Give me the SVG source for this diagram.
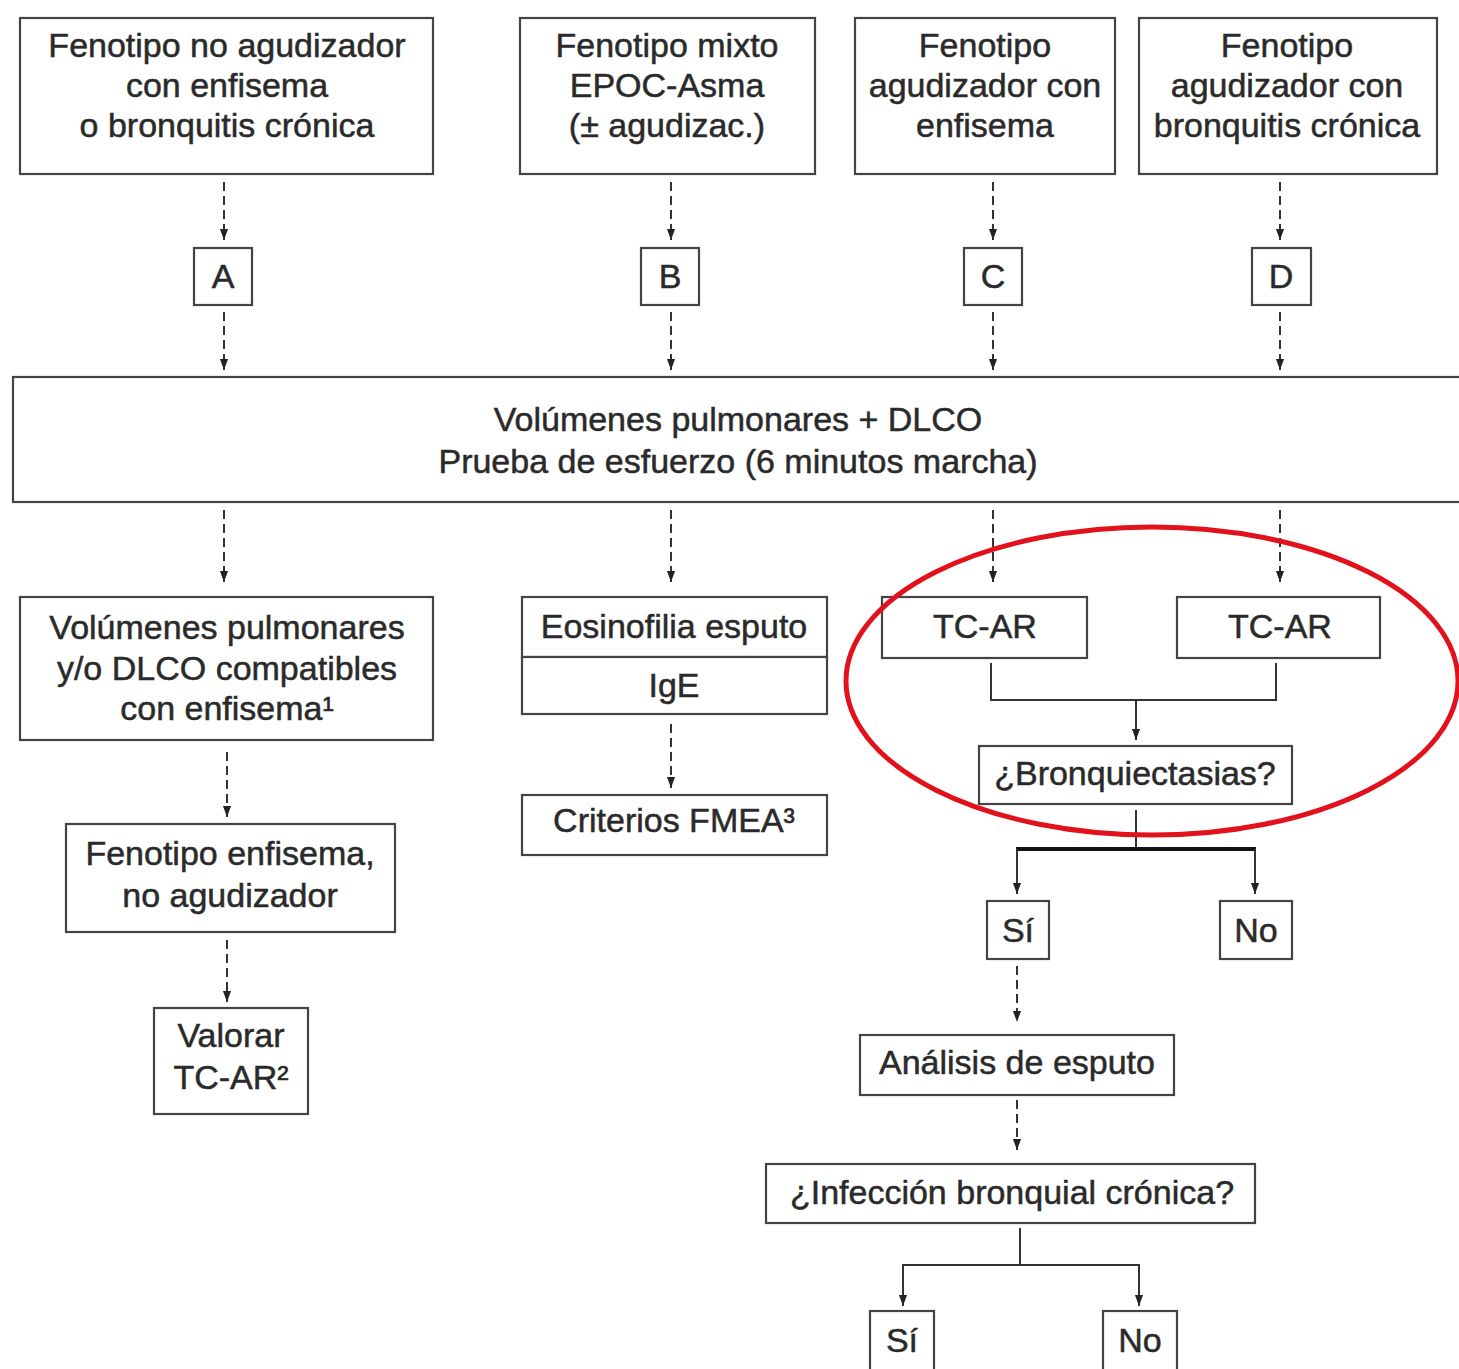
<svg xmlns="http://www.w3.org/2000/svg" width="1459" height="1369" viewBox="0 0 1459 1369">
<defs>
<marker id="ad" markerUnits="userSpaceOnUse" markerWidth="11" markerHeight="15" viewBox="0 0 15 11" refX="15" refY="5.5" orient="auto">
<path d="M0,0 L15,5.5 L0,11 Z" fill="#222"/>
</marker>
</defs>
<style>
.box{fill:#fff;stroke:#444;stroke-width:2.2}
.t{font-family:"Liberation Sans",Arial,sans-serif;font-size:34px;fill:#2a2a2a;stroke:#2a2a2a;stroke-width:0.5;text-anchor:middle}
.dash{fill:none;stroke:#333;stroke-width:2;stroke-dasharray:9 5}
.solid{fill:none;stroke:#333;stroke-width:2}
.thick{fill:none;stroke:#111;stroke-width:4}
</style>
<rect width="1459" height="1369" fill="#fff"/>

<g id="connectors">
<line class="dash" x1="224" y1="182" x2="224" y2="240" marker-end="url(#ad)"/>
<line class="dash" x1="671" y1="182" x2="671" y2="240" marker-end="url(#ad)"/>
<line class="dash" x1="993" y1="182" x2="993" y2="240" marker-end="url(#ad)"/>
<line class="dash" x1="1280" y1="182" x2="1280" y2="240" marker-end="url(#ad)"/>
<line class="dash" x1="224" y1="312" x2="224" y2="370" marker-end="url(#ad)"/>
<line class="dash" x1="671" y1="312" x2="671" y2="370" marker-end="url(#ad)"/>
<line class="dash" x1="993" y1="312" x2="993" y2="370" marker-end="url(#ad)"/>
<line class="dash" x1="1280" y1="312" x2="1280" y2="370" marker-end="url(#ad)"/>
<line class="dash" x1="224" y1="510" x2="224" y2="582" marker-end="url(#ad)"/>
<line class="dash" x1="671" y1="510" x2="671" y2="582" marker-end="url(#ad)"/>
<line class="dash" x1="993" y1="510" x2="993" y2="582" marker-end="url(#ad)"/>
<line class="dash" x1="1280" y1="510" x2="1280" y2="582" marker-end="url(#ad)"/>
<line class="dash" x1="227" y1="752" x2="227" y2="817" marker-end="url(#ad)"/>
<line class="dash" x1="227" y1="940" x2="227" y2="1002" marker-end="url(#ad)"/>
<line class="dash" x1="671" y1="724" x2="671" y2="788" marker-end="url(#ad)"/>
<polyline class="solid" points="991,663 991,700 1276,700 1276,663"/>
<line class="solid" x1="1136" y1="700" x2="1136" y2="740" marker-end="url(#ad)"/>
<line class="solid" x1="1136" y1="810" x2="1136" y2="849"/>
<line class="thick" x1="1016" y1="849" x2="1256" y2="849"/>
<line class="solid" x1="1017" y1="849" x2="1017" y2="894" marker-end="url(#ad)"/>
<line class="solid" x1="1255" y1="849" x2="1255" y2="894" marker-end="url(#ad)"/>
<line class="dash" x1="1017" y1="966" x2="1017" y2="1022" marker-end="url(#ad)"/>
<line class="dash" x1="1017" y1="1100" x2="1017" y2="1150" marker-end="url(#ad)"/>
<polyline class="solid" points="903,1290 903,1265 1139,1265 1139,1290"/>
<line class="solid" x1="1020" y1="1228" x2="1020" y2="1265"/>
<line class="solid" x1="903" y1="1280" x2="903" y2="1306" marker-end="url(#ad)"/>
<line class="solid" x1="1139" y1="1280" x2="1139" y2="1306" marker-end="url(#ad)"/>
</g>

<g id="n1"><rect class="box" x="20" y="18" width="413" height="156"/>
<text class="t" x="227" y="57">Fenotipo no agudizador</text><text class="t" x="227" y="97">con enfisema</text><text class="t" x="227" y="137">o bronquitis crónica</text></g>
<g id="n2"><rect class="box" x="520" y="18" width="295" height="156"/>
<text class="t" x="667" y="57">Fenotipo mixto</text><text class="t" x="667" y="97">EPOC-Asma</text><text class="t" x="667" y="137">(± agudizac.)</text></g>
<g id="n3"><rect class="box" x="855" y="18" width="260" height="156"/>
<text class="t" x="985" y="57">Fenotipo</text><text class="t" x="985" y="97">agudizador con</text><text class="t" x="985" y="137">enfisema</text></g>
<g id="n4"><rect class="box" x="1139" y="18" width="298" height="156"/>
<text class="t" x="1287" y="57">Fenotipo</text><text class="t" x="1287" y="97">agudizador con</text><text class="t" x="1287" y="137">bronquitis crónica</text></g>

<g id="nA"><rect class="box" x="194" y="248" width="58" height="57"/><text class="t" x="223" y="288">A</text></g>
<g id="nB"><rect class="box" x="641" y="248" width="58" height="57"/><text class="t" x="670" y="288">B</text></g>
<g id="nC"><rect class="box" x="964" y="248" width="58" height="57"/><text class="t" x="993" y="288">C</text></g>
<g id="nD"><rect class="box" x="1252" y="248" width="59" height="57"/><text class="t" x="1281" y="288">D</text></g>

<g id="nBig"><rect class="box" x="13" y="377" width="1455" height="125"/>
<text class="t" x="738" y="431">Volúmenes pulmonares + DLCO</text><text class="t" x="738" y="473">Prueba de esfuerzo (6 minutos marcha)</text></g>

<g id="nVol"><rect class="box" x="20" y="597" width="413" height="143"/>
<text class="t" x="227" y="639">Volúmenes pulmonares</text><text class="t" x="227" y="680">y/o DLCO compatibles</text><text class="t" x="227" y="720">con enfisema¹</text></g>
<g id="nFen"><rect class="box" x="66" y="824" width="329" height="108"/>
<text class="t" x="230" y="865">Fenotipo enfisema,</text><text class="t" x="230" y="907">no agudizador</text></g>
<g id="nVal"><rect class="box" x="154" y="1008" width="154" height="106"/>
<text class="t" x="231" y="1047">Valorar</text><text class="t" x="231" y="1089">TC-AR²</text></g>

<g id="nEos"><rect class="box" x="522" y="597" width="305" height="60"/><text class="t" x="674" y="638">Eosinofilia esputo</text></g>
<g id="nIgE"><rect class="box" x="522" y="657" width="305" height="57"/><text class="t" x="674" y="697">IgE</text></g>
<g id="nCri"><rect class="box" x="522" y="795" width="305" height="60"/><text class="t" x="674" y="832">Criterios FMEA³</text></g>

<g id="nTC1"><rect class="box" x="882" y="597" width="205" height="61"/><text class="t" x="985" y="638">TC-AR</text></g>
<g id="nTC2"><rect class="box" x="1177" y="597" width="203" height="61"/><text class="t" x="1280" y="638">TC-AR</text></g>
<g id="nBro"><rect class="box" x="979" y="746" width="313" height="58"/><text class="t" x="1135" y="785">¿Bronquiectasias?</text></g>
<g id="nSi1"><rect class="box" x="987" y="901" width="62" height="58"/><text class="t" x="1018" y="942">Sí</text></g>
<g id="nNo1"><rect class="box" x="1220" y="901" width="72" height="58"/><text class="t" x="1256" y="942">No</text></g>
<g id="nAna"><rect class="box" x="860" y="1035" width="314" height="60"/><text class="t" x="1017" y="1074">Análisis de esputo</text></g>
<g id="nInf"><rect class="box" x="766" y="1164" width="489" height="59"/><text class="t" x="1012" y="1204">¿Infección bronquial crónica?</text></g>
<g id="nSi2"><rect class="box" x="870" y="1311" width="64" height="70"/><text class="t" x="902" y="1352">Sí</text></g>
<g id="nNo2"><rect class="box" x="1103" y="1311" width="74" height="70"/><text class="t" x="1140" y="1352">No</text></g>

<ellipse cx="1152" cy="681" rx="306" ry="154" fill="none" stroke="#e3111b" stroke-width="5"/>
</svg>
